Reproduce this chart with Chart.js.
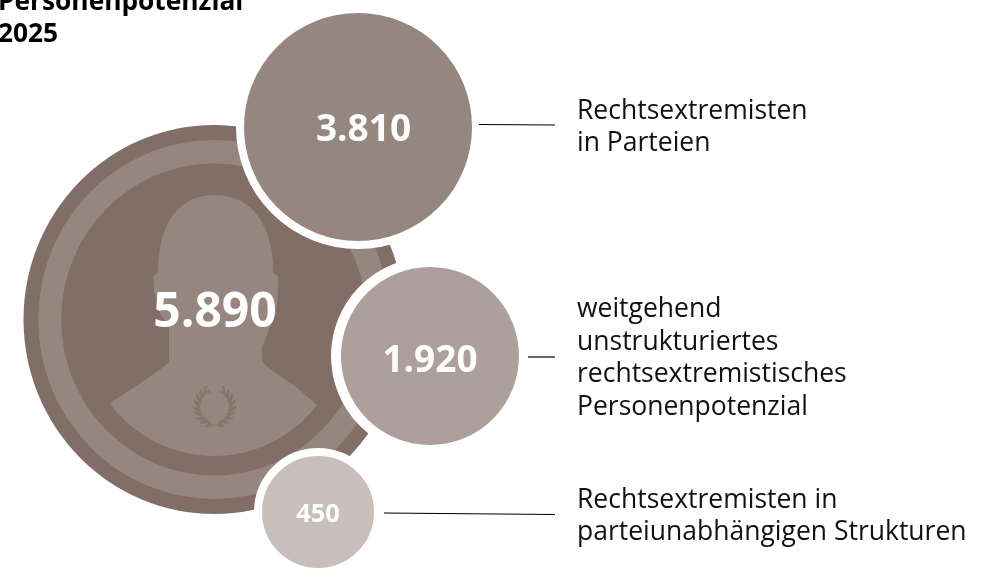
<!DOCTYPE html>
<html lang="de">
<head>
<meta charset="utf-8">
<style>html,body{margin:0;padding:0;background:#fff}canvas{display:block}</style>
<script src="https://cdn.jsdelivr.net/npm/chart.js@4"></script>
</head>
<body>
<canvas id="c" width="1000" height="570"></canvas>
<script>
// Data
const categories = [
  "Rechtsextremistisches Personenpotenzial gesamt",
  "Rechtsextremisten in Parteien",
  "weitgehend unstrukturiertes rechtsextremistisches Personenpotenzial",
  "Rechtsextremisten in parteiunabhängigen Strukturen"
];
const values = [5890, 3810, 1920, 450];
const titleLines = ["Personenpotenzial", "2025"];
const labelParties = ["Rechtsextremisten", "in Parteien"];
const labelUnstructured = ["weitgehend", "unstrukturiertes", "rechtsextremistisches", "Personenpotenzial"];
const labelIndependent = ["Rechtsextremisten in", "parteiunabhängigen Strukturen"];

// Layout and styles (scale units equal canvas pixels)
const DARK = "#806e67", LIGHT = "#95867f", MID = "#ada09c", PALE = "#c8bfbc", FONT = '"Open Sans"';
const mainCenter = {x: 214, y: 319.5};
const ringRadii = [194.5, 179.5, 156];
const ringColors = [DARK, LIGHT, DARK];
const ringSquash = 190.5 / 194.5;
const topBubble = {x: 358, y: 127, r: 118, w: 8};
const midBubble = {x: 430, y: 356, r: 94, w: 10};
const lowBubble = {x: 318, y: 512, r: 60, w: 8};
const leaderTop = [{x: 479, y: 124.5}, {x: 555, y: 125}];
const leaderMid = [{x: 528, y: 357}, {x: 555, y: 357}];
const leaderLow = [{x: 384, y: 513}, {x: 555, y: 514.5}];

const fmt = v => String(v).replace(/\B(?=(\d{3})+$)/g, ".");

function drawWreath(ctx, cx, cy) {
  ctx.fillStyle = DARK; ctx.strokeStyle = DARK;
  ctx.globalAlpha = 0.65;
  for (const side of [-1, 1]) {
    ctx.lineWidth = 0.8;
    ctx.beginPath();
    ctx.moveTo(cx - side * 6, cy + 20.5);
    for (let deg = 10; deg <= 150; deg += 7) {
      const a = deg * Math.PI / 180;
      ctx.lineTo(cx + side * 17.5 * Math.sin(a), cy + 18 * Math.cos(a));
    }
    ctx.stroke();
    for (let deg = 12; deg <= 160; deg += 16.5) {
      const a = deg * Math.PI / 180;
      const px = cx + side * 17.5 * Math.sin(a), py = cy + 18 * Math.cos(a);
      const tang = side > 0 ? -a - Math.PI / 2 : a + Math.PI / 2;
      for (const off of [-0.6, 0.6]) {
        ctx.save();
        ctx.translate(px, py);
        ctx.rotate(tang + off);
        ctx.beginPath();
        ctx.ellipse(0, 3.2, 1.3, 3.4, 0, 0, Math.PI * 2);
        ctx.fill();
        ctx.restore();
      }
    }
  }
  ctx.globalAlpha = 1;
}

function drawSilhouette(ctx, c) {
  const X = dx => c.x + dx, Y = dy => c.y + dy;
  ctx.fillStyle = LIGHT;
  ctx.beginPath();
  ctx.moveTo(X(-56), Y(-47));
  ctx.bezierCurveTo(X(-56), Y(-95), X(-36), Y(-124.5), X(1), Y(-124.5));
  ctx.bezierCurveTo(X(37), Y(-124.5), X(59.5), Y(-95), X(59.5), Y(-47));
  ctx.lineTo(X(64), Y(-43));
  ctx.lineTo(X(64), Y(-28));
  ctx.lineTo(X(62), Y(-6));
  ctx.lineTo(X(56), Y(7));
  ctx.lineTo(X(48), Y(28));
  ctx.lineTo(X(48), Y(42.5));
  ctx.lineTo(X(58), Y(51));
  ctx.lineTo(X(83), Y(68));
  ctx.lineTo(X(104.5), Y(87));
  const ax = c.x, ay = c.y + 6.5;
  ctx.arc(ax, ay, 130, Math.atan2(87 - 6.5, 104.5), Math.atan2(83.5 - 6.5, -104));
  ctx.lineTo(X(-74), Y(64));
  ctx.lineTo(X(-52), Y(48.5));
  ctx.lineTo(X(-45), Y(42.5));
  ctx.lineTo(X(-45), Y(7));
  ctx.lineTo(X(-54), Y(-6));
  ctx.lineTo(X(-60), Y(-28));
  ctx.lineTo(X(-60.5), Y(-43));
  ctx.closePath();
  ctx.fill();
  drawWreath(ctx, c.x + 0.5, c.y + 87);
}

const artwork = {
  id: "artwork",
  beforeDatasetDraw(chart, args) {
    if (args.index !== 0) return;
    const el = chart.getDatasetMeta(0).data[0], ctx = chart.ctx;
    ctx.save();
    ctx.translate(el.x, el.y);
    ctx.scale(ringSquash, 1);
    ctx.translate(-el.x, -el.y);
  },
  afterDatasetDraw(chart, args) {
    if (args.index !== 0) return;
    const el = chart.getDatasetMeta(0).data[0], ctx = chart.ctx;
    ctx.restore();
    ctx.save();
    drawSilhouette(ctx, {x: el.x, y: el.y});
    ctx.restore();
  },
  afterDraw(chart) {
    const ctx = chart.ctx, sx = chart.scales.x, sy = chart.scales.y;
    ctx.save();
    ctx.textBaseline = "alphabetic";
    ctx.fillStyle = "#fff";
    ctx.textAlign = "center";
    const valueFonts = [
      ['bold 48px ' + FONT, 1, 7],
      ['bold 37px ' + FONT, 5.5, 13.5],
      ['bold 37px ' + FONT, 0, 16],
      ['bold 25.5px ' + FONT, 0, 10]
    ];
    const anchors = [
      chart.getDatasetMeta(0).data[0], chart.getDatasetMeta(1).data[0],
      chart.getDatasetMeta(2).data[0], chart.getDatasetMeta(3).data[0]
    ];
    values.forEach((v, i) => {
      ctx.font = valueFonts[i][0];
      ctx.fillText(fmt(v), anchors[i].x + valueFonts[i][1], anchors[i].y + valueFonts[i][2]);
    });
    ctx.textAlign = "left";
    ctx.fillStyle = "#111";
    ctx.font = '26.5px ' + FONT;
    const block = (lines, x, y, lh) => lines.forEach((t, i) => ctx.fillText(t, sx.getPixelForValue(x), sy.getPixelForValue(y + i * lh)));
    block(labelParties, 577, 119, 32);
    block(labelUnstructured, 577, 317, 32.5);
    block(labelIndependent, 577, 508, 32);
    ctx.fillStyle = "#000";
    ctx.font = 'bold 26.3px ' + FONT;
    block(titleLines, -2, 10, 32);
    ctx.restore();
  }
};

const bubble = (p, color, order, label) => ({
  type: "bubble", label, order,
  data: [{x: p.x, y: p.y, r: p.r}],
  backgroundColor: color, borderColor: "#fff", borderWidth: p.w, hoverBorderWidth: p.w
});
const leader = (pts, order) => ({
  type: "line", order, data: pts, borderColor: "#000", borderWidth: 1.2, pointRadius: 0, fill: false, tension: 0
});

new Chart(document.getElementById("c"), {
  type: "bubble",
  data: {
    datasets: [
      {
        type: "bubble", label: categories[0], order: 10,
        data: ringRadii.map(r => ({x: mainCenter.x, y: mainCenter.y, r})),
        backgroundColor: ringColors, borderWidth: 0, hoverBorderWidth: 0
      },
      bubble(topBubble, LIGHT, 5, categories[1]),
      bubble(midBubble, MID, 4, categories[2]),
      bubble(lowBubble, PALE, 3, categories[3]),
      leader(leaderTop, 2), leader(leaderMid, 2), leader(leaderLow, 2)
    ]
  },
  options: {
    responsive: false,
    animation: false,
    events: [],
    layout: {padding: 0, autoPadding: false},
    plugins: {legend: {display: false}, tooltip: {enabled: false}, title: {display: false}},
    scales: {
      x: {type: "linear", min: 0, max: 1000, display: false},
      y: {type: "linear", min: 0, max: 570, reverse: true, display: false}
    }
  },
  plugins: [artwork]
});
</script>
</body>
</html>
